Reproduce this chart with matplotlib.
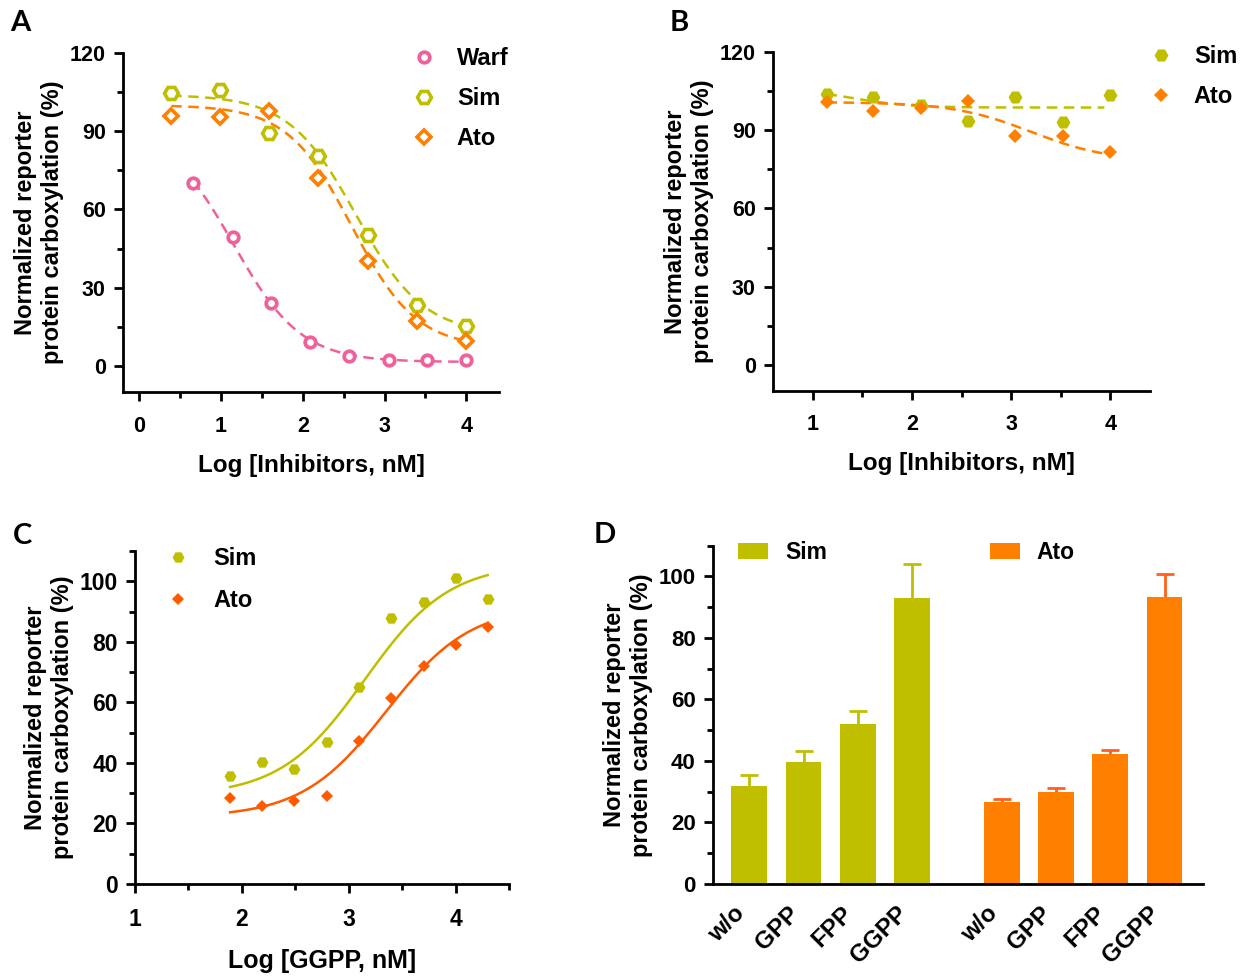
import numpy as np
import matplotlib
matplotlib.use('Agg')
import matplotlib.pyplot as plt
from matplotlib.ticker import MultipleLocator

plt.rcParams['font.family'] = ['Liberation Sans', 'DejaVu Sans']
plt.rcParams['font.weight'] = 'bold'
plt.rcParams['axes.labelweight'] = 'bold'

SIM = '#bfbf00'
ATO = '#ff7f00'
ATO_C = '#ff5a00'
ATO_ERR = '#ff5f1f'
WARF = '#f0609a'

# ---- panel A: dose response, log nM
a_warf_x = [0.66, 1.14, 1.61, 2.09, 2.57, 3.05, 3.52, 4.00]
a_warf_y = [70.3, 49.4, 24.1, 9.0, 3.7, 2.4, 2.4, 2.4]
a_statin_x = [0.39, 0.99, 1.59, 2.19, 2.80, 3.40, 4.00]
a_sim_y = [104.6, 105.9, 89.5, 80.6, 50.3, 23.3, 15.4]
a_ato_y = [95.7, 95.4, 97.8, 72.1, 40.1, 17.3, 9.4]
# fitted curves: bottom, top, logIC50, hill
a_warf_fit = (1.5, 92, 1.15, -1.05)
a_sim_fit = (12, 104, 2.65, -1.05)
a_ato_fit = (7, 100, 2.6, -1.1)

# ---- panel B
b_x = [1.14, 1.61, 2.09, 2.57, 3.04, 3.52, 4.00]
b_sim_y = [103.9, 102.6, 99.7, 93.5, 102.9, 93.3, 103.7]
b_ato_y = [100.8, 97.2, 98.4, 101.2, 87.9, 87.6, 81.6]
b_sim_fit = (98.7, 106, 1.4, -1.5)
b_ato_fit = (78, 100.8, 3.2, -1.1)

# ---- panel C: GGPP rescue
c_x = [1.89, 2.19, 2.49, 2.80, 3.10, 3.40, 3.70, 4.00, 4.30]
c_sim_y = [35.7, 40.2, 38.1, 46.8, 65.0, 87.9, 93.2, 101.1, 94.3]
c_ato_y = [28.3, 25.7, 27.4, 29.1, 47.2, 61.3, 72.1, 79.0, 84.9]
c_sim_fit = (29, 106, 3.15, 1.1)
c_ato_fit = (22, 92, 3.35, 1.1)

# ---- panel D: bars
d_labels = ['w/o', 'GPP', 'FPP', 'GGPP']
d_sim = [32.0, 39.8, 51.9, 92.9]
d_sim_err = [3.3, 3.5, 4.4, 11.0]
d_ato = [26.8, 29.9, 42.4, 93.4]
d_ato_err = [0.8, 1.3, 1.2, 7.4]


def logistic(x, p):
    bottom, top, logc, hill = p
    return bottom + (top - bottom) / (1 + 10 ** ((logc - x) * hill))


def curve(ax, xs, p, color, ls='--', x_end=None):
    xx = np.linspace(xs[0], xs[-1] if x_end is None else x_end, 200)
    ln, = ax.plot(xx, logistic(xx, p), color=color, lw=1.8, ls=ls, zorder=2)
    if ls == '--':
        ln.set_dashes((4.2, 2.6))


W, H = 1242, 980
fig = plt.figure(figsize=(W / 100, H / 100), dpi=100)


def add_ax(l, r, t, b):
    ax = fig.add_axes([l / W, 1 - b / H, (r - l) / W, (b - t) / H])
    for s in ['top', 'right']:
        ax.spines[s].set_visible(False)
    for s in ['left', 'bottom']:
        ax.spines[s].set_linewidth(2)
    ax.tick_params(which='major', length=6.5, width=2, labelsize=15.5)
    ax.tick_params(which='minor', length=4, width=2)
    return ax


ylab = 'Normalized reporter\nprotein carboxylation (%)'

# A
ax = add_ax(123, 499, 53, 392)
curve(ax, a_warf_x, a_warf_fit, WARF)
curve(ax, a_statin_x, a_sim_fit, SIM)
curve(ax, a_statin_x, a_ato_fit, ATO)
ax.plot(a_warf_x, a_warf_y, ls='none', marker='o', ms=7.6, mew=2.7, mfc='white', mec=WARF, label='Warf', zorder=3)
ax.plot(a_statin_x, a_sim_y, ls='none', marker='H', ms=10, mew=2.6, mfc='white', mec=SIM, label='Sim', zorder=3)
ax.plot(a_statin_x, a_ato_y, ls='none', marker='D', ms=7.4, mew=2.6, mfc='white', mec=ATO, label='Ato', zorder=3)
ax.set_xlim(-0.2, 4.4)
ax.set_ylim(-10, 120)
ax.set_xticks([0, 1, 2, 3, 4])
ax.set_yticks([0, 30, 60, 90, 120])
ax.xaxis.set_minor_locator(MultipleLocator(0.5))
ax.set_yticks([15, 45, 75, 105], minor=True)
ax.tick_params(axis='x', pad=11)
ax.tick_params(axis='y', pad=6)
ax.set_xlabel('Log [Inhibitors, nM]', fontsize=17.5, labelpad=12)
ax.set_ylabel(ylab, fontsize=17, labelpad=4)
ax.legend(loc='upper left', bbox_to_anchor=(412 / W, 1 - 47 / H), bbox_transform=fig.transFigure,
          frameon=False, fontsize=17, handlelength=1.0, handletextpad=0.9, labelspacing=0.72, borderpad=0,
          borderaxespad=0)

# B
ax = add_ax(773, 1150, 52, 391)
curve(ax, b_x, b_sim_fit, SIM, x_end=3.94)
curve(ax, b_x, b_ato_fit, ATO)
ax.plot(b_x, b_sim_y, ls='none', marker='H', ms=10, mew=0, color=SIM, label='Sim', zorder=3)
ax.plot(b_x, b_ato_y, ls='none', marker='D', ms=7.6, mew=0, color=ATO, label='Ato', zorder=3)
ax.set_xlim(0.6, 4.4)
ax.set_ylim(-10, 120)
ax.set_xticks([1, 2, 3, 4])
ax.set_yticks([0, 30, 60, 90, 120])
ax.set_xticks([1.5, 2.5, 3.5], minor=True)
ax.set_yticks([15, 45, 75, 105], minor=True)
ax.tick_params(axis='x', pad=10)
ax.tick_params(axis='y', pad=6)
ax.set_xlabel('Log [Inhibitors, nM]', fontsize=17.5, labelpad=12)
ax.set_ylabel(ylab, fontsize=17, labelpad=4)
ax.legend(loc='upper left', bbox_to_anchor=(1149 / W, 1 - 45 / H), bbox_transform=fig.transFigure,
          frameon=False, fontsize=17, handlelength=1.0, handletextpad=0.9, labelspacing=0.74, borderpad=0,
          borderaxespad=0)

# C
ax = add_ax(135, 509, 551, 884)
curve(ax, c_x, c_sim_fit, SIM, ls='-')
curve(ax, c_x, c_ato_fit, ATO_C, ls='-')
ax.plot(c_x, c_sim_y, ls='none', marker='H', ms=8.6, mew=0, color=SIM, label='Sim', zorder=3)
ax.plot(c_x, c_ato_y, ls='none', marker='D', ms=6.2, mew=0, color=ATO_C, label='Ato', zorder=3)
ax.set_xlim(1, 4.5)
ax.set_ylim(0, 110)
ax.set_xticks([1, 2, 3, 4])
ax.set_yticks([0, 20, 40, 60, 80, 100])
ax.set_xticks([1.5, 2.5, 3.5, 4.5], minor=True)
ax.set_yticks([10, 30, 50, 70, 90, 110], minor=True)
ax.tick_params(labelsize=16.5)
ax.tick_params(axis='x', pad=11)
ax.tick_params(axis='y', pad=6)
ax.set_xlabel('Log [GGPP, nM]', fontsize=18, labelpad=13)
ax.set_ylabel(ylab, fontsize=17, labelpad=4)
ax.legend(loc='upper left', bbox_to_anchor=(166 / W, 1 - 547 / H), bbox_transform=fig.transFigure,
          frameon=False, fontsize=17, handlelength=1.0, handletextpad=1.0, labelspacing=0.8, borderpad=0,
          borderaxespad=0)

# D
ax = add_ax(713, 1203, 545.5, 884)
gap = 0.66
pos_sim = np.arange(4)
pos_ato = np.arange(4) + 4 + gap
ax.bar(pos_sim, d_sim, width=0.66, color=SIM, label='Sim', zorder=2)
ax.bar(pos_ato, d_ato, width=0.66, color=ATO, label='Ato', zorder=2)
for pos, vals, errs, col in [(pos_sim, d_sim, d_sim_err, SIM), (pos_ato, d_ato, d_ato_err, ATO_ERR)]:
    eb = ax.errorbar(pos, vals, yerr=[np.zeros(4), errs], fmt='none', ecolor=col, elinewidth=2,
                     capsize=6.8, capthick=2, zorder=1)
    eb[1][0].set_visible(False)
ax.set_xlim(-0.67, 8.37)
ax.set_ylim(0, 110)
ax.set_yticks([0, 20, 40, 60, 80, 100])
ax.set_yticks([10, 30, 50, 70, 90, 110], minor=True)
ax.set_xticks(np.concatenate([pos_sim, pos_ato]), d_labels + d_labels, rotation=45, ha='right')
ax.tick_params(labelsize=16)
ax.tick_params(axis='x', length=0, pad=13, labelsize=17.5)
ax.tick_params(axis='y', pad=6)
ax.set_ylabel(ylab, fontsize=17, labelpad=4)
ax.legend(loc='upper left', bbox_to_anchor=(738 / W, 1 - 541 / H), bbox_transform=fig.transFigure,
          frameon=False, fontsize=16.5, ncol=2, handlelength=1.31, handleheight=0.66, handletextpad=0.74,
          columnspacing=7.1, borderpad=0, borderaxespad=0)

# panel letters
for letter, x, y in [('A', 10, 31), ('B', 670, 31), ('C', 13, 544), ('D', 594, 543)]:
    fig.text(x / W, 1 - y / H, letter, fontsize=21, fontweight='bold', family='Lato', va='baseline')

fig.savefig('out.png', dpi=100)
